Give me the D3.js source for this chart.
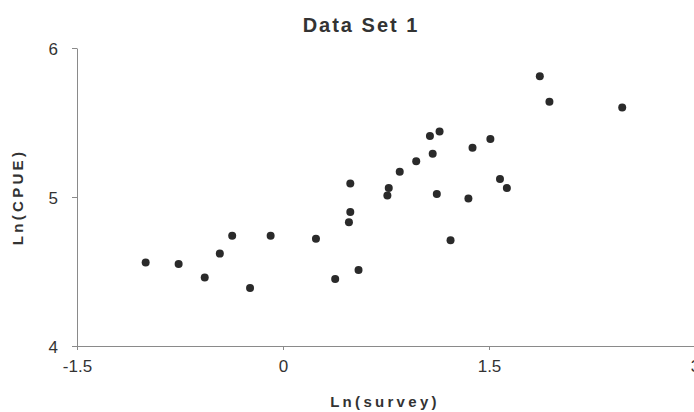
<!DOCTYPE html>
<html>
<head>
<meta charset="utf-8">
<script src="https://cdn.jsdelivr.net/npm/d3@7"></script>
<style>
  body { margin: 0; background: #fff; }
  text { font-family: Arial, "Liberation Sans", sans-serif; }
</style>
</head>
<body>
<svg></svg>
<script>
const w = 694
const h = 412

// data
const lnSurvey = [-1.0, -0.76, -0.57, -0.46, -0.37, -0.24, -0.09, 0.24, 0.38, 0.48, 0.55,
  1.07, 1.14, 1.51, 1.38, 1.09, 0.97, 0.85, 0.49, 0.77, 0.76, 1.12, 1.35, 1.58, 1.63,
  0.49, 1.22, 1.87, 1.94, 2.47]
const lnCPUE = [4.56, 4.55, 4.46, 4.62, 4.74, 4.39, 4.74, 4.72, 4.45, 4.83, 4.51,
  5.41, 5.44, 5.39, 5.33, 5.29, 5.24, 5.17, 5.09, 5.06, 5.01, 5.02, 4.99, 5.12, 5.06,
  4.90, 4.71, 5.81, 5.64, 5.60]
const xTicks = [-1.5, 0, 1.5, 3]
const yTicks = [4, 5, 6]

const title = 'Data Set 1'
const xAxisLabel = 'Ln(survey)'
const yAxisLabel = 'Ln(CPUE)'

const data = lnSurvey.map((x, i) => ({ x: x, y: lnCPUE[i] }))

const svg = d3.select('svg')
  .attr('width', w)
  .attr('height', h)

const margin = { top: 48, right: -1, bottom: 66, left: 77 }

const xScale = d3.scaleLinear()
  .domain([-1.5, 3])
  .range([margin.left, w - margin.right])

const yScale = d3.scaleLinear()
  .domain([4, 6])
  .range([h - margin.bottom, margin.top])

// plain hyphen minus like the original, not the unicode one
const plain = d => String(d)

const xAxis = d3.axisBottom(xScale)
  .tickValues(xTicks)
  .tickFormat(plain)
  .tickSizeInner(4)
  .tickSizeOuter(0)
  .tickPadding(10)

const yAxis = d3.axisLeft(yScale)
  .tickValues(yTicks)
  .tickFormat(plain)
  .tickSizeInner(5)
  .tickSizeOuter(0)
  .tickPadding(14)

const xAxisG = svg.append('g')
  .attr('transform', `translate(0, ${yScale(4)})`)
  .call(xAxis)

const yAxisG = svg.append('g')
  .attr('transform', `translate(${xScale(-1.5)}, 0)`)
  .call(yAxis)

// style both axes the scanned-Excel way
svg.selectAll('.domain, .tick line')
  .attr('stroke', '#8a8a8a')
  .attr('stroke-width', 1)

svg.selectAll('.tick text')
  .attr('fill', '#333')
  .attr('font-size', 17)
  .attr('font-family', 'Arial, "Liberation Sans", sans-serif')

yAxisG.selectAll('.tick text').attr('dy', '0.36em')

// points
svg.append('g')
  .selectAll('circle').data(data)
  .enter().append('circle')
  .attr('cx', d => xScale(d.x))
  .attr('cy', d => yScale(d.y))
  .attr('r', 4)
  .attr('fill', '#2a2a2a')

// title
svg.append('text')
  .attr('x', 361)
  .attr('y', 32)
  .attr('text-anchor', 'middle')
  .attr('font-size', 20)
  .attr('font-weight', 'bold')
  .attr('letter-spacing', 2)
  .attr('fill', '#333')
  .text(title)

// axis labels
svg.append('text')
  .attr('x', 385)
  .attr('y', 407)
  .attr('text-anchor', 'middle')
  .attr('font-size', 15)
  .attr('font-weight', 'bold')
  .attr('letter-spacing', 3.3)
  .attr('fill', '#333')
  .text(xAxisLabel)

svg.append('text')
  .attr('transform', 'translate(23, 197) rotate(-90)')
  .attr('text-anchor', 'middle')
  .attr('font-size', 15)
  .attr('font-weight', 'bold')
  .attr('letter-spacing', 3.3)
  .attr('fill', '#333')
  .text(yAxisLabel)
</script>
</body>
</html>
